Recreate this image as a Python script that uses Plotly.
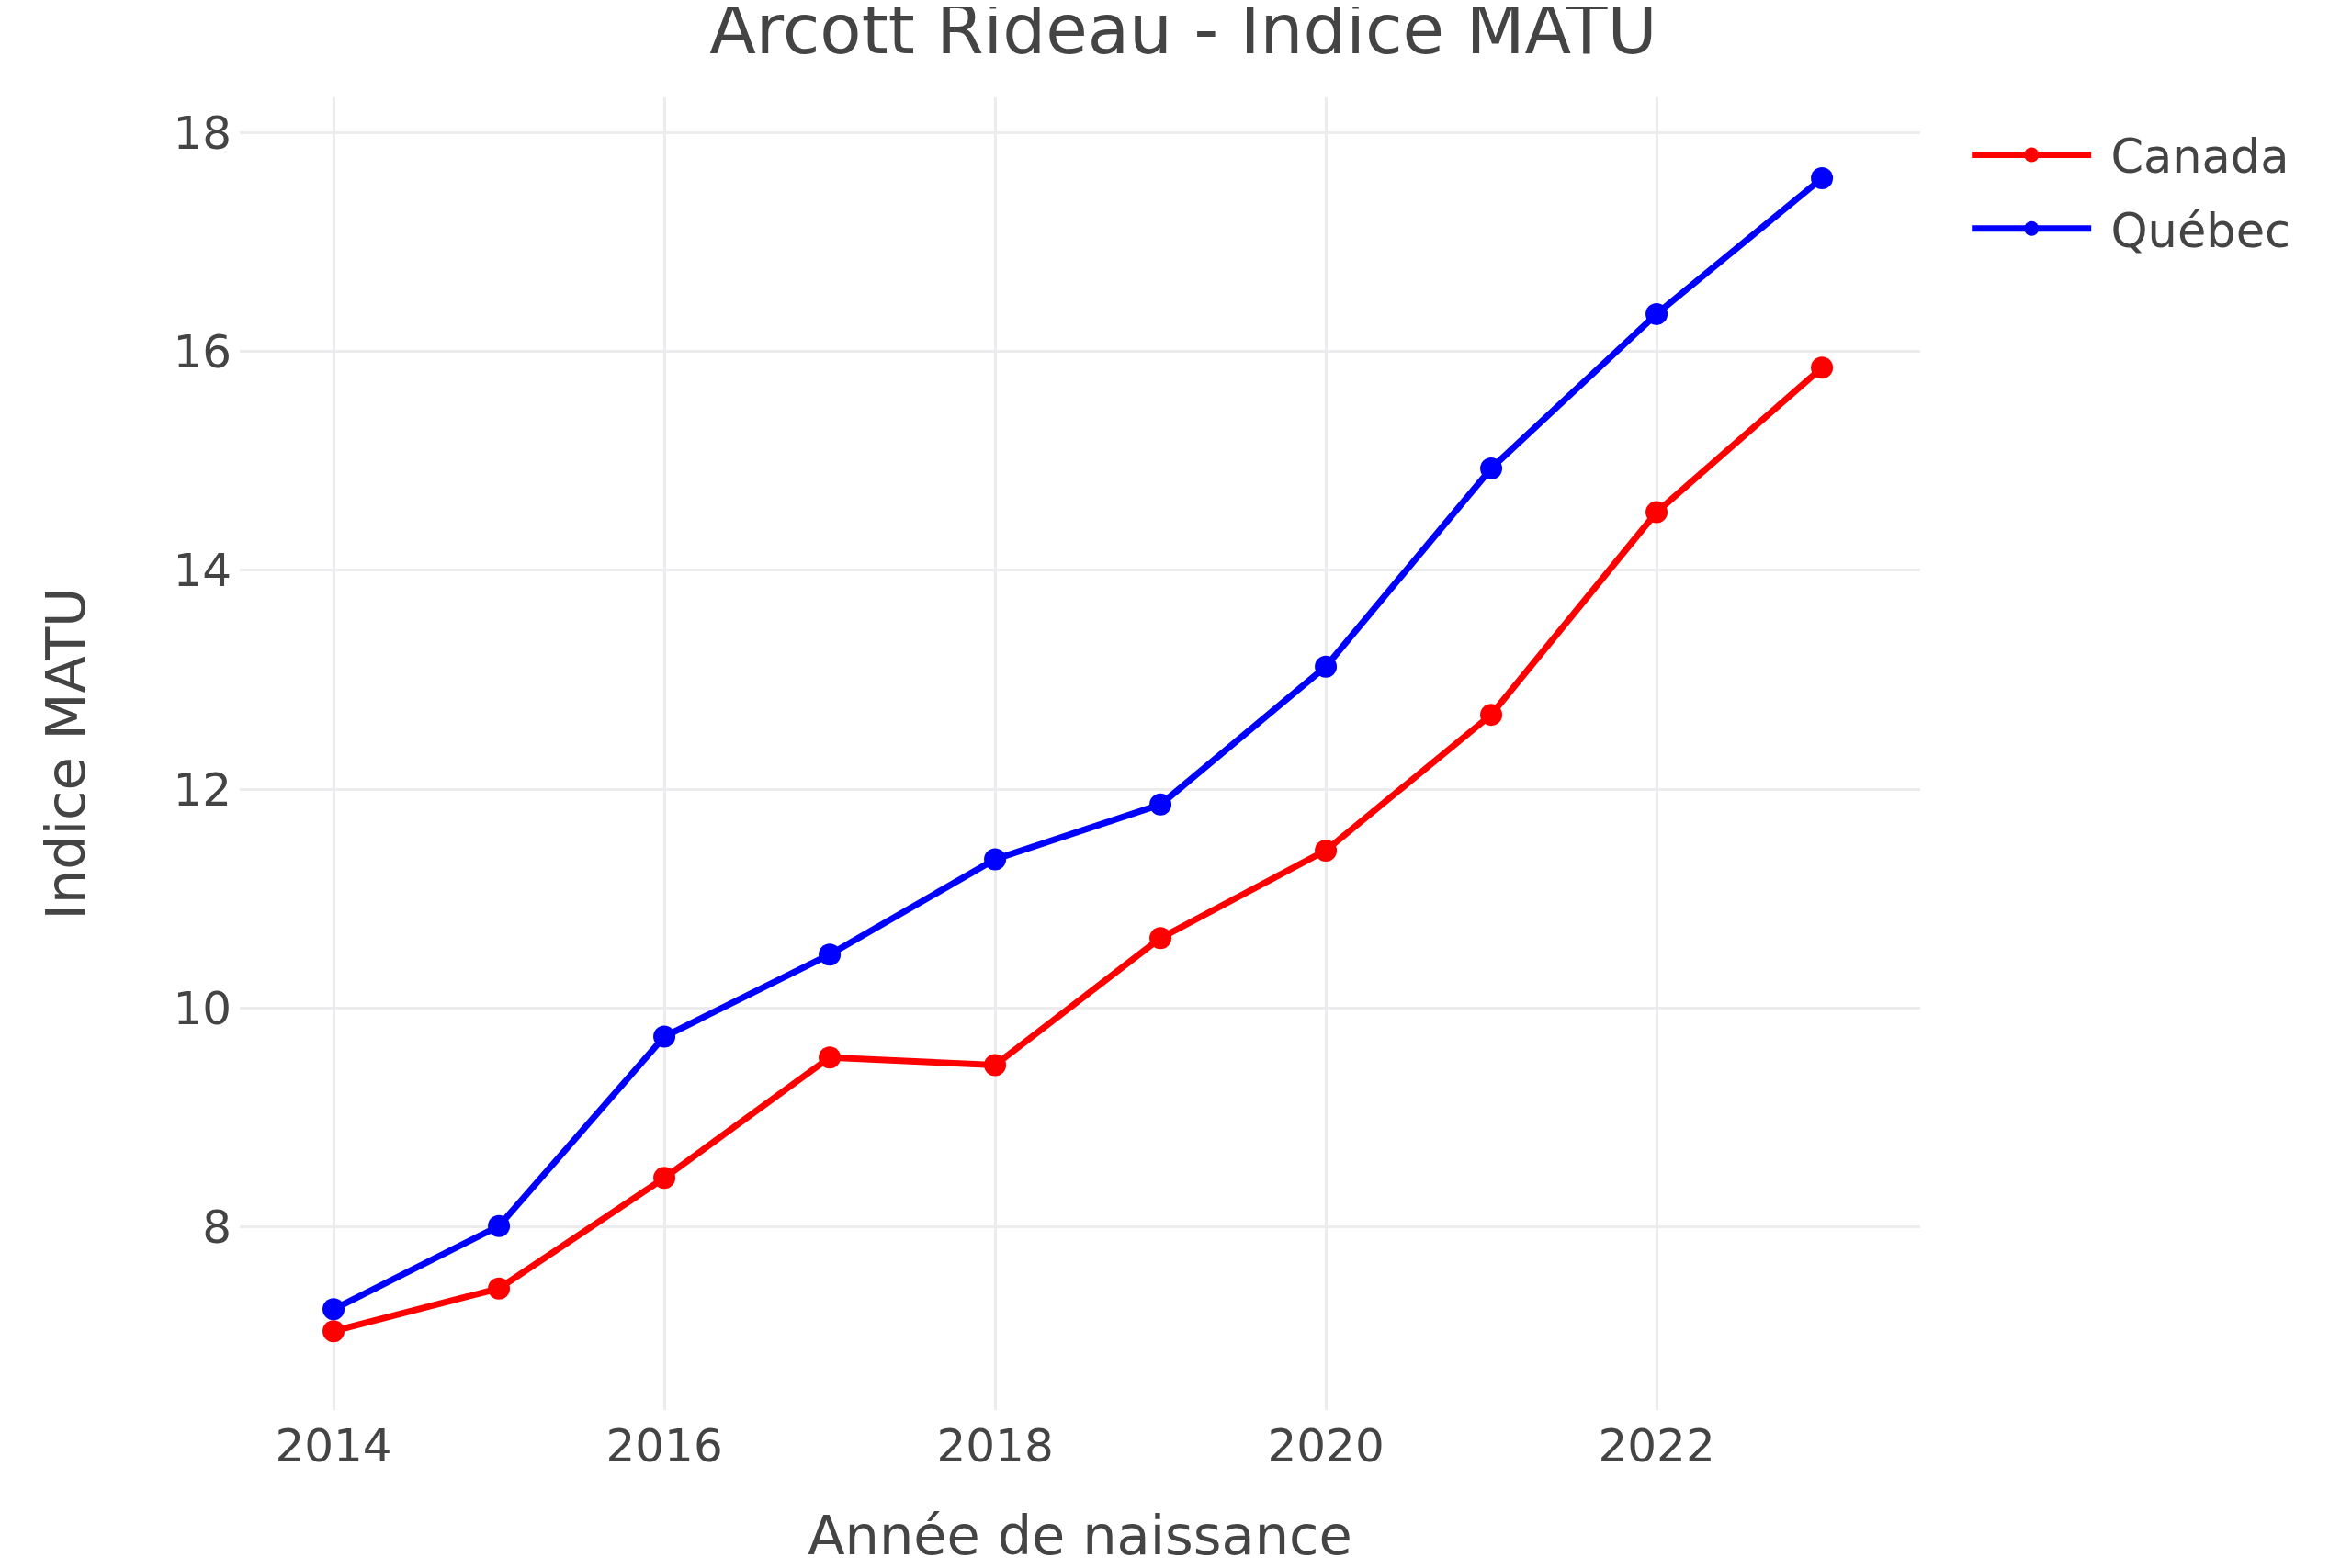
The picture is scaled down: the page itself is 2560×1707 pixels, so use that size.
import plotly.graph_objects as go

years = [2014, 2015, 2016, 2017, 2018, 2019, 2020, 2021, 2022, 2023]
canada = [7.05, 7.44, 8.45, 9.55, 9.48, 10.64, 11.44, 12.68, 14.53, 15.85]
quebec = [7.25, 8.01, 9.74, 10.49, 11.36, 11.86, 13.12, 14.93, 16.34, 17.58]

FONT = "Verdana, DejaVu Sans, sans-serif"
GRID = "#ECECEE"
NBSP = "\u00a0"

fig = go.Figure()
fig.add_trace(go.Scatter(x=years, y=canada, mode="lines+markers", name=NBSP + "Canada",
                         line=dict(color="red", width=7), marker=dict(color="red", size=24),
                         legendgroup="c"))
fig.add_trace(go.Scatter(x=years, y=quebec, mode="lines+markers", name=NBSP + "Québec",
                         line=dict(color="blue", width=7), marker=dict(color="blue", size=24),
                         legendgroup="q"))

fig.update_layout(
    width=2560, height=1707,
    paper_bgcolor="white", plot_bgcolor="white",
    margin=dict(l=253, r=478, t=98, b=180, autoexpand=False),
    font=dict(family=FONT, color="#444444", size=50),
    title=dict(text="Arcott Rideau - Indice MATU", x=0.5, xanchor="center",
               xref="container", yref="container", y=0.986, yanchor="middle",
               font=dict(size=74)),
    legend=dict(x=1.028, y=0.984, xanchor="left", yanchor="top", font=dict(size=51),
                itemwidth=130, tracegroupgap=11, bgcolor="rgba(0,0,0,0)"),
    xaxis=dict(title=dict(text="Année de naissance", font=dict(size=59), standoff=48),
               range=[2013.433, 2023.594], dtick=2, tick0=2014, ticklabelstandoff=5,
               showgrid=True, gridcolor=GRID, gridwidth=3, zeroline=False,
               showline=False, ticks="", automargin=False),
    yaxis=dict(title=dict(text="Indice MATU", font=dict(size=59), standoff=76),
               range=[6.33, 18.319], dtick=2, tick0=8, ticklabelstandoff=8,
               showgrid=True, gridcolor=GRID, gridwidth=3, zeroline=False,
               showline=False, ticks="", automargin=False),
)

fig.write_html("out.html")
